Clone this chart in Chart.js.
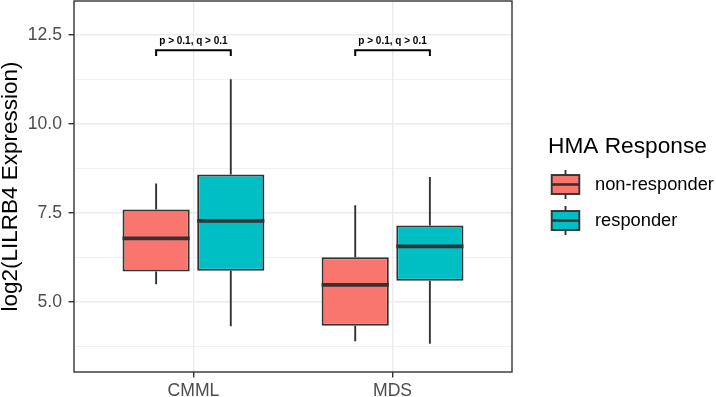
<!DOCTYPE html>
<html>
<head>
<meta charset="utf-8">
<script src="https://cdn.jsdelivr.net/npm/chart.js@4/dist/chart.umd.min.js"></script>
<style>
  html, body { margin: 0; padding: 0; background: #fff; }
  #wrap { width: 716px; height: 397px; }
</style>
</head>
<body>
<div id="wrap"><canvas id="box_chart"></canvas></div>
<script>
const categories = ['CMML', 'MDS'];
const groups = ['non-responder', 'responder'];
const groupColors = ['#F8766D', '#00BFC4'];

// box stats (lower whisker, q1, median, q3, upper whisker)
const nr_low = [5.50, 3.90];
const nr_q1 = [5.86, 4.33];
const nr_median = [6.79, 5.48];
const nr_q3 = [7.60, 6.26];
const nr_high = [8.33, 7.72];

const r_low = [4.32, 3.83];
const r_q1 = [5.88, 5.60];
const r_median = [7.28, 6.56];
const r_q3 = [8.58, 7.15];
const r_high = [11.26, 8.51];

const yMajor = [5.0, 7.5, 10.0, 12.5];
const yMinor = [3.75, 6.25, 8.75, 11.25];

// significance brackets
const sigLabels = ['p > 0.1, q > 0.1', 'p > 0.1, q > 0.1'];
const sigBracketY = [12.07, 12.07];
const sigBracketEnd = [11.91, 11.91];

const FONT = "'Liberation Sans', Arial, Helvetica, sans-serif";
Chart.defaults.font.family = FONT;

const stats = [
  {low: nr_low, median: nr_median, high: nr_high, q1: nr_q1, q3: nr_q3},
  {low: r_low, median: r_median, high: r_high, q1: r_q1, q3: r_q3}
];

function isMajor(v) {
  return yMajor.some(m => Math.abs(m - v) < 1e-6);
}

const boxPlugin = {
  id: 'boxParts',
  beforeDatasetsDraw(chart) {
    // whiskers under the boxes
    const ctx = chart.ctx, y = chart.scales.y;
    ctx.save();
    ctx.strokeStyle = '#333333';
    ctx.lineWidth = 1.9;
    chart.data.datasets.forEach((ds, d) => {
      chart.getDatasetMeta(d).data.forEach((bar, i) => {
        ctx.beginPath();
        ctx.moveTo(bar.x, y.getPixelForValue(stats[d].high[i]));
        ctx.lineTo(bar.x, y.getPixelForValue(stats[d].q3[i]));
        ctx.moveTo(bar.x, y.getPixelForValue(stats[d].q1[i]));
        ctx.lineTo(bar.x, y.getPixelForValue(stats[d].low[i]));
        ctx.stroke();
      });
    });
    ctx.restore();
  },
  afterDatasetsDraw(chart) {
    const ctx = chart.ctx, x = chart.scales.x, y = chart.scales.y;
    const area = chart.chartArea;
    ctx.save();
    // medians
    ctx.strokeStyle = '#333333';
    ctx.lineWidth = 3.8;
    chart.data.datasets.forEach((ds, d) => {
      chart.getDatasetMeta(d).data.forEach((bar, i) => {
        const py = y.getPixelForValue(stats[d].median[i]);
        ctx.beginPath();
        ctx.moveTo(bar.x - bar.width / 2, py);
        ctx.lineTo(bar.x + bar.width / 2, py);
        ctx.stroke();
      });
    });

    // brackets + labels
    const m0 = chart.getDatasetMeta(0).data, m1 = chart.getDatasetMeta(1).data;
    ctx.strokeStyle = '#000';
    ctx.lineWidth = 2;
    ctx.fillStyle = '#000';
    ctx.font = 'bold 10px ' + FONT;
    ctx.textAlign = 'center';
    ctx.textBaseline = 'alphabetic';
    categories.forEach((c, i) => {
      const x0 = m0[i].x, x1 = m1[i].x;
      const yb = y.getPixelForValue(sigBracketY[i]);
      const ye = y.getPixelForValue(sigBracketEnd[i]);
      ctx.beginPath();
      ctx.moveTo(x0, ye);
      ctx.lineTo(x0, yb);
      ctx.lineTo(x1, yb);
      ctx.lineTo(x1, ye);
      ctx.stroke();
      ctx.fillText(sigLabels[i], x.getPixelForValue(i), yb - 6.5);
    });

    // panel border
    ctx.strokeStyle = '#333333';
    ctx.lineWidth = 1.4;
    ctx.strokeRect(area.left, area.top, area.right - area.left, area.bottom - area.top);
    ctx.restore();
  },
  afterDraw(chart) {
    // ggplot style legend with mini boxplot keys
    const ctx = chart.ctx;
    const left = chart.chartArea.right + 36;
    ctx.save();
    ctx.fillStyle = '#000';
    ctx.font = '22.7px ' + FONT;
    ctx.textAlign = 'left';
    ctx.textBaseline = 'alphabetic';
    ctx.fillText('HMA Response', left, 153);
    groups.forEach((g, i) => {
      const cy = 184.5 + i * 36;
      const cx = left + 17.5;
      ctx.strokeStyle = '#333333';
      ctx.lineWidth = 1.9;
      ctx.beginPath();
      ctx.moveTo(cx, cy - 14.5);
      ctx.lineTo(cx, cy + 14.5);
      ctx.stroke();
      ctx.fillStyle = groupColors[i];
      ctx.fillRect(cx - 13.8, cy - 9.5, 27.6, 19);
      ctx.strokeRect(cx - 13.8, cy - 9.5, 27.6, 19);
      ctx.lineWidth = 2.6;
      ctx.beginPath();
      ctx.moveTo(cx - 13.8, cy);
      ctx.lineTo(cx + 13.8, cy);
      ctx.stroke();
      ctx.fillStyle = '#000';
      ctx.font = '18.3px ' + FONT;
      ctx.textBaseline = 'middle';
      ctx.fillText(g, left + 47, cy);
      ctx.textBaseline = 'alphabetic';
    });
    ctx.restore();
  }
};

function noPadding(s) {
  s.paddingTop = 0;
  s.paddingBottom = 0;
  s.paddingLeft = 0;
  s.paddingRight = 0;
}

function buildBoxChart(container_id) {
  return new Chart(document.getElementById(container_id).getContext('2d'), {
    type: 'bar',
    data: {
      datasets: groups.map((g, d) => ({
        label: g,
        data: categories.map((c, i) => ({x: i, y: [stats[d].q1[i], stats[d].q3[i]]})),
        backgroundColor: groupColors[d],
        borderColor: '#333333',
        borderWidth: 2,
        borderSkipped: false,
        categoryPercentage: 0.75,
        barPercentage: 0.9
      }))
    },
    options: {
      responsive: true,
      maintainAspectRatio: false,
      animation: false,
      layout: { padding: { top: 1, right: 204, left: 0, bottom: 0 } },
      plugins: {
        legend: { display: false },
        tooltip: { enabled: false }
      },
      scales: {
        x: {
          type: 'linear',
          min: -0.6,
          max: 1.6,
          offset: false,
          afterBuildTicks: s => { s.ticks = categories.map((c, i) => ({value: i})); },
          afterFit: s => { s.height = 25; noPadding(s); },
          border: { display: false },
          grid: {
            offset: false,
            color: '#EBEBEB',
            lineWidth: 1.4,
            tickColor: '#333333',
            tickWidth: 1.4,
            tickLength: 5.5
          },
          ticks: {
            autoSkip: false,
            maxRotation: 0,
            padding: 3,
            color: '#4D4D4D',
            font: { size: 17.6 },
            callback: v => categories[v]
          }
        },
        y: {
          min: 3.034,
          max: 13.455,
          afterBuildTicks: s => {
            s.ticks = yMinor.concat(yMajor).sort((a, b) => a - b).map(v => ({value: v}));
          },
          afterFit: s => { s.width = 74; noPadding(s); },
          border: { display: false },
          grid: {
            color: '#EBEBEB',
            lineWidth: c => isMajor(c.tick.value) ? 1.4 : 0.7,
            tickColor: c => isMajor(c.tick.value) ? '#333333' : 'rgba(0,0,0,0)',
            tickWidth: 1.4,
            tickLength: 5.5
          },
          ticks: {
            autoSkip: false,
            padding: 6.5,
            color: '#4D4D4D',
            font: { size: 17.6 },
            callback: v => isMajor(v) ? v.toFixed(1) : ''
          },
          title: {
            display: true,
            text: 'log2(LILRB4 Expression)',
            color: '#000',
            font: { size: 22.5, lineHeight: 0.92 },
            padding: { top: 0, bottom: 0 }
          }
        }
      }
    },
    plugins: [boxPlugin]
  });
}

buildBoxChart('box_chart');
</script>
</body>
</html>
